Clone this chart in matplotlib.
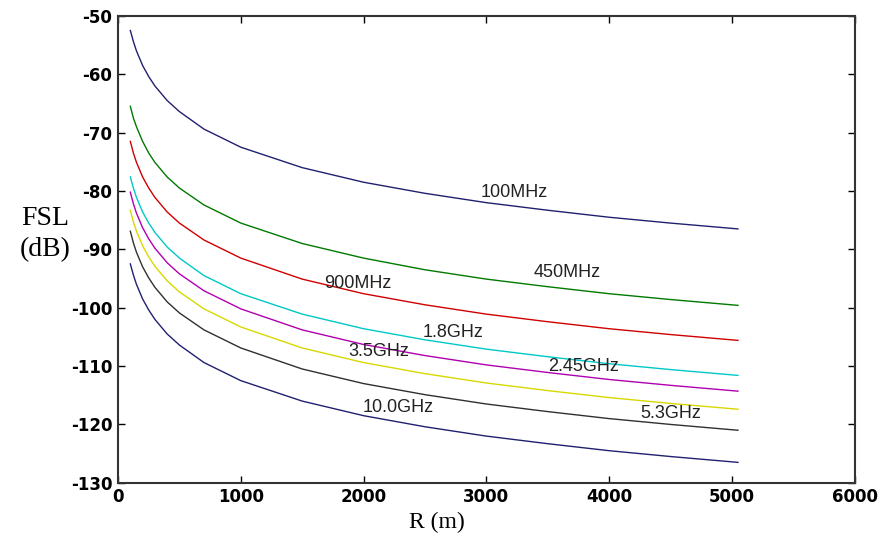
import matplotlib.pyplot as plt

plt.rcParams['axes.unicode_minus'] = False

# distance (m)
R = [100, 125, 150, 200, 250, 300, 400, 500, 700, 1000, 1500, 2000, 2500, 3000, 3500, 4000, 4500, 5050]

# free space loss (dB)
fsl_100M = [-52.5, -54.4, -56.0, -58.5, -60.4, -62.0, -64.5, -66.4, -69.4, -72.5, -76.0, -78.5, -80.4, -82.0, -83.3, -84.5, -85.5, -86.5]
fsl_450M = [-65.5, -67.5, -69.0, -71.5, -73.5, -75.1, -77.6, -79.5, -82.4, -85.5, -89.0, -91.5, -93.5, -95.1, -96.4, -97.6, -98.6, -99.6]
fsl_900M = [-71.5, -73.5, -75.1, -77.6, -79.5, -81.1, -83.6, -85.5, -88.4, -91.5, -95.1, -97.6, -99.5, -101.1, -102.4, -103.6, -104.6, -105.6]
fsl_1G8 = [-77.6, -79.5, -81.1, -83.6, -85.5, -87.1, -89.6, -91.5, -94.5, -97.6, -101.1, -103.6, -105.5, -107.1, -108.4, -109.6, -110.6, -111.6]
fsl_2G45 = [-80.2, -82.2, -83.8, -86.3, -88.2, -89.8, -92.3, -94.2, -97.1, -100.2, -103.8, -106.3, -108.2, -109.8, -111.1, -112.3, -113.3, -114.3]
fsl_3G5 = [-83.3, -85.3, -86.9, -89.4, -91.3, -92.9, -95.4, -97.3, -100.2, -103.3, -106.9, -109.4, -111.3, -112.9, -114.2, -115.4, -116.4, -117.4]
fsl_5G3 = [-86.9, -88.9, -90.5, -93.0, -94.9, -96.5, -99.0, -100.9, -103.8, -106.9, -110.5, -113.0, -114.9, -116.5, -117.8, -119.0, -120.0, -121.0]
fsl_10G = [-92.5, -94.4, -96.0, -98.5, -100.4, -102.0, -104.5, -106.4, -109.4, -112.5, -116.0, -118.5, -120.4, -122.0, -123.3, -124.5, -125.5, -126.5]

curves = [fsl_100M, fsl_450M, fsl_900M, fsl_1G8, fsl_2G45, fsl_3G5, fsl_5G3, fsl_10G]
colors = ['#202070', '#007a00', '#d00000', '#00c8c8', '#b000b0', '#d8d800', '#303030', '#202070']

# labels and where they sit
labels = ['100MHz', '450MHz', '900MHz', '1.8GHz', '2.45GHz', '3.5GHz', '5.3GHz', '10.0GHz']
label_x = [3230, 3660, 1950, 2730, 3790, 2125, 4500, 2280]
label_y = [-80.3, -94.0, -95.9, -104.3, -110.1, -107.5, -118.2, -117.1]

fig = plt.figure(figsize=(8.81, 5.48), dpi=100)
ax = fig.add_axes([0.134, 0.119, 0.836, 0.852])

for y, c in zip(curves, colors):
    ax.plot(R, y, color=c, linewidth=1.0)

for t, x, y in zip(labels, label_x, label_y):
    ax.text(x, y, t, ha='center', va='center', fontsize=13,
            family='Liberation Sans', color='#222222')

ax.set_xlim(0, 6000)
ax.set_ylim(-130, -50)
ax.set_xticks(range(0, 6001, 1000))
ax.set_yticks(range(-130, -49, 10))
ax.tick_params(direction='in', top=True, right=True, length=5, width=1, pad=4)
for lab in ax.get_xticklabels() + ax.get_yticklabels():
    lab.set_fontweight('bold')
    lab.set_fontsize(12)
    lab.set_family('DejaVu Sans')
for s in ax.spines.values():
    s.set_linewidth(1.5)
    s.set_color('#333333')

fig.text(0.051, 0.573, 'FSL\n(dB)', ha='center', va='center', fontsize=20,
         family='Liberation Serif', linespacing=1.3)
fig.text(0.496, 0.047, 'R (m)', ha='center', va='center', fontsize=17,
         family='Liberation Serif')

fig.savefig('out.png', dpi=100)
